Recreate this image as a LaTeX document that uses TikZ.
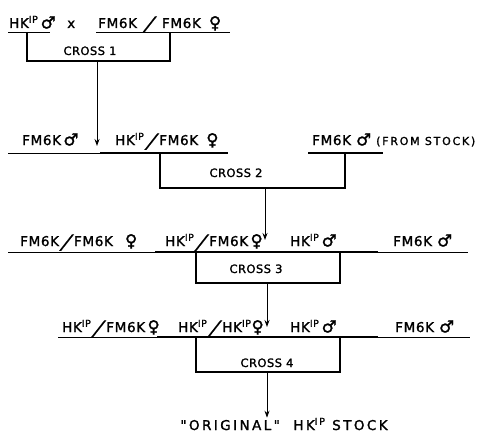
\documentclass[tikz,border=0pt]{standalone}
\usepackage{fontspec}
\setmainfont{DejaVu Sans}[FakeBold=1.4,Ligatures=TeXOff]
\usepackage{graphicx}
\usetikzlibrary{positioning,arrows.meta}
\newcommand{\HKip}{HK\textsuperscript{IP}}
\newcommand{\male}{\raisebox{-0.5pt}{\scalebox{1.25}{♂}}}
\newcommand{\female}{\raisebox{-0.5pt}{\scalebox{1.25}{♀}}}
\newcommand{\sla}{\kern1pt\raisebox{-1.5pt}{\scalebox{1.6}[1.05]{\addfontfeature{FakeBold=0.3}╱}}\kern1pt}

\begin{document}
\begin{tikzpicture}[x=1pt,y=-1pt,>={Stealth[length=7pt,width=5pt]},
  geno/.style={anchor=base west,inner sep=0pt,
    font=\fontsize{13.5}{16}\selectfont\addfontfeature{LetterSpace=5}},
  stocklbl/.style={anchor=base west,inner sep=0pt,
    font=\fontsize{11}{13}\selectfont\addfontfeature{LetterSpace=16}},
  crossname/.style={anchor=base,inner sep=0pt,
    font=\fontsize{11.5}{13}\selectfont\addfontfeature{LetterSpace=4}},
  uline/.style={line width=0.9pt},
  barline/.style={line width=2.8pt},
  arr/.style={->,line width=0.9pt}]
  \useasboundingbox (0,0) rectangle (484,436);

  % cross 1
  \node[geno] (hkmale1) at (9,28) {\HKip\,\male};
  \node[geno] (times1) at (67,28) {x};
  \node[geno] (fmfm1) at (98,28) {FM6K \sla\ FM6K\hspace{8pt}\female};
  \draw[uline] (8,32) -- (50,32);
  \draw[uline] (96,32) -- (230,32);
  \draw[barline] (27,32) |- (170,61) -- (170,32);
  \node[crossname] (cross1) at (90,55) {CROSS 1};
  \coordinate (out1) at (97,61);
  \coordinate (in2) at (97,146);
  \draw[arr] (out1) -- (in2);

  % cross 2
  \node[geno] (fmmale2) at (22,145) {FM6K\,\male};
  \node[geno] (hkfm2) at (115,145) {\HKip\sla FM6K\hspace{8pt}\female};
  \node[geno] (fmstock2) at (312,145) {FM6K \male};
  \node[stocklbl] (stock2) at (376,145) {(FROM STOCK)};
  \draw[uline] (8,153) -- (100,153);
  \draw[barline] (100,153) -- (228,153);
  \draw[barline] (308,153) -- (383,153);
  \draw[barline] (160,153) |- (345,188) -- (345,153);
  \node[crossname] (cross2) at (236,177) {CROSS 2};
  \coordinate (out2) at (265,188);
  \coordinate (in3) at (265,240);
  \draw[arr] (out2) -- (in3);

  % cross 3
  \node[geno] (fmfm3) at (20,246) {FM6K\sla FM6K\hspace{12pt}\female};
  \node[geno] (hkfm3) at (165,246) {\HKip\sla FM6K\,\female};
  \node[geno] (hkmale3) at (290,246) {\HKip\,\male};
  \node[geno] (fmmale3) at (393,246) {FM6K \male};
  \draw[uline] (8,252) -- (468,252);
  \draw[barline] (155,252) -- (378,252);
  \draw[barline] (196,252) rectangle (340,283);
  \node[crossname] (cross3) at (256,273) {CROSS 3};
  \coordinate (out3) at (267,283);
  \coordinate (in4) at (267,327);
  \draw[arr] (out3) -- (in4);

  % cross 4
  \node[geno] (hkfm4) at (62,332) {\HKip\sla FM6K\,\female};
  \node[geno] (hkhk4) at (178,332) {\HKip\sla\HKip\female};
  \node[geno] (hkmale4) at (290,332) {\HKip\,\male};
  \node[geno] (fmmale4) at (395,332) {FM6K \male};
  \draw[uline] (58,337) -- (470,337);
  \draw[barline] (157,337) -- (378,337);
  \draw[barline] (196,337) rectangle (340,372);
  \node[crossname] (cross4) at (267,367) {CROSS 4};
  \coordinate (out4) at (267,372);
  \node[geno,anchor=base,font=\fontsize{13.5}{16}\selectfont\addfontfeature{LetterSpace=18}]
    (stock) at (284,430) {"ORIGINAL"\ \ \HKip\ STOCK};
  \draw[arr] (out4) -- (stock.north -| out4);
\end{tikzpicture}
\end{document}
